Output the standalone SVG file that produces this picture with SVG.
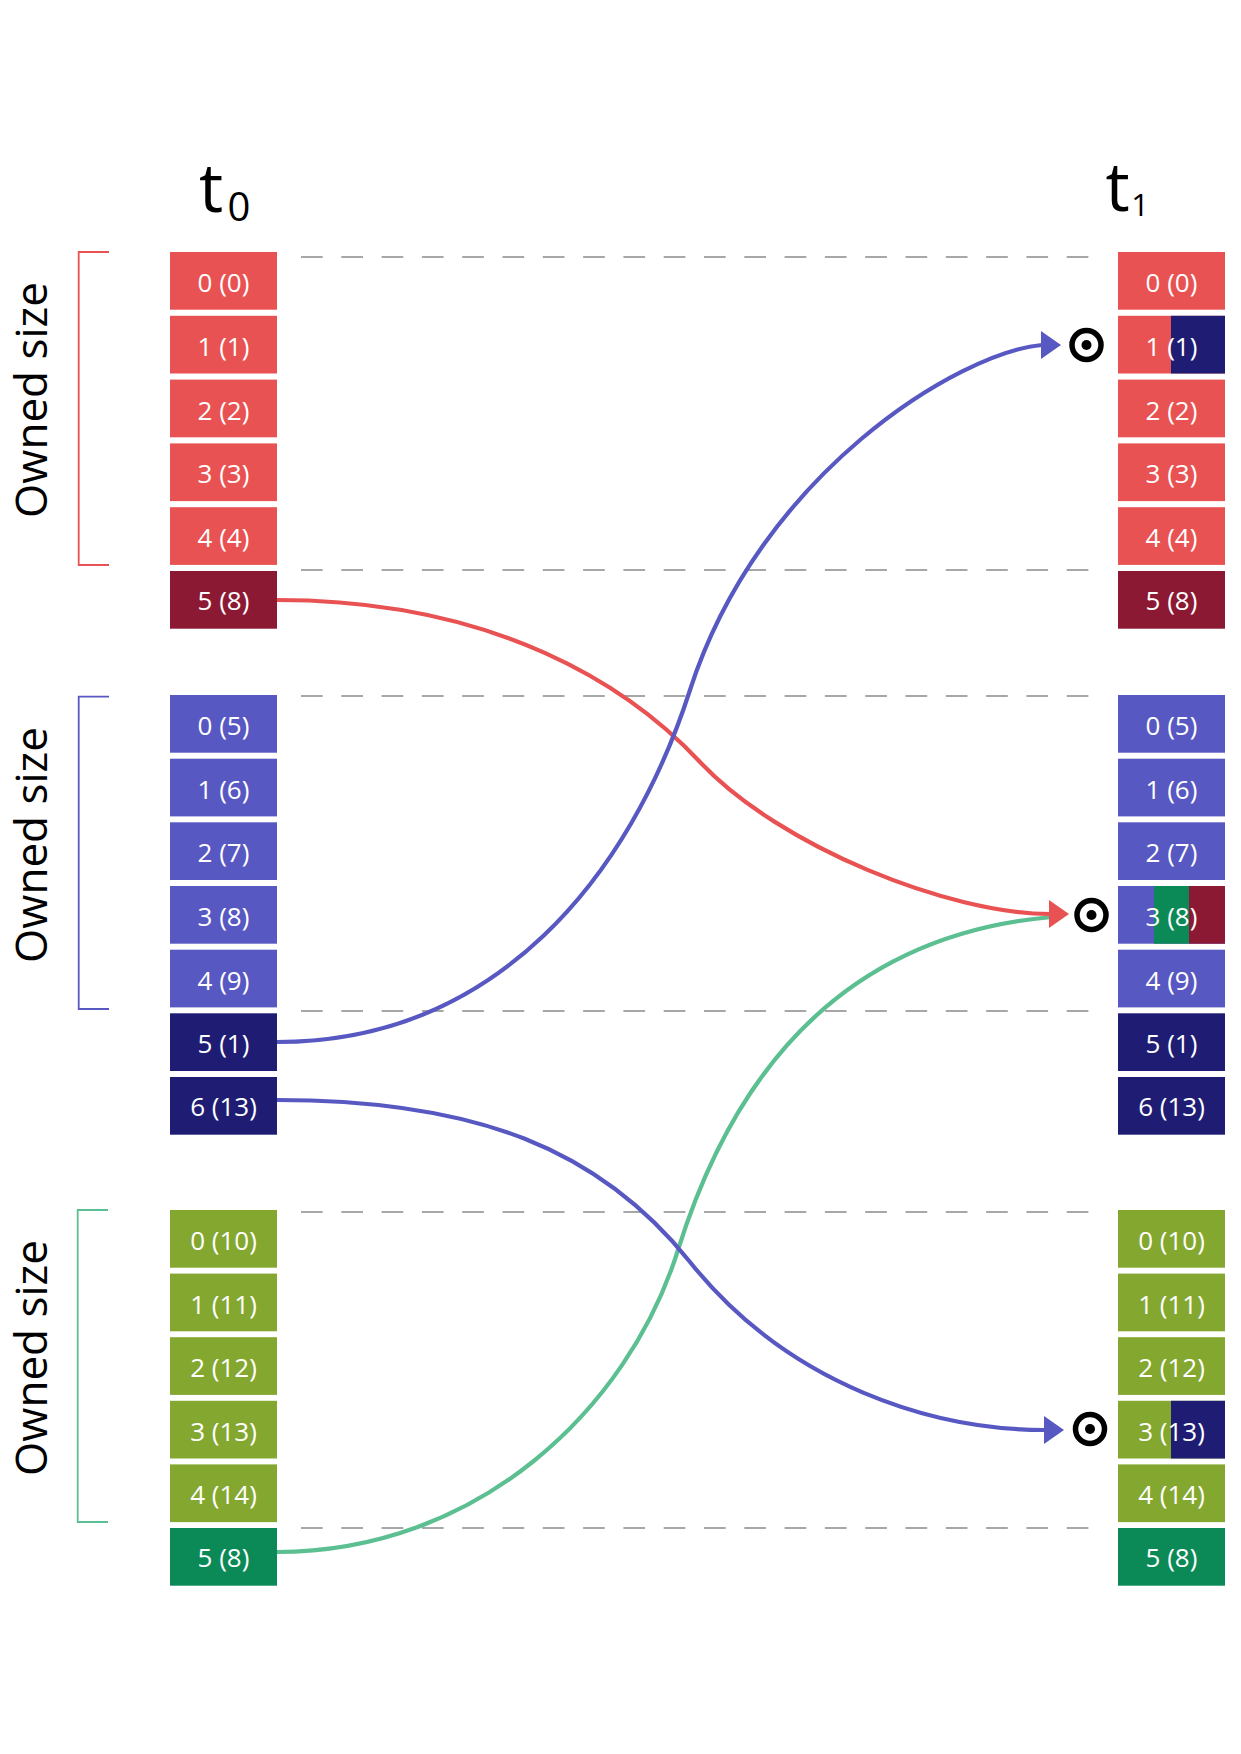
<svg xmlns="http://www.w3.org/2000/svg" width="1241" height="1754" viewBox="0 0 1241 1754">
  <style>
    .red{fill:#E95252}
    .dred{fill:#8C1934}
    .blue{fill:#5858C2}
    .navy{fill:#1E1D73}
    .olive{fill:#84A72F}
    .dgreen{fill:#0B8A57}
    .lbl{font-family:"Open Sans","Noto Sans",sans-serif;font-size:26px;fill:#ffffff;text-anchor:middle}
    .side{font-family:"Open Sans","Noto Sans",sans-serif;font-size:44px;fill:#000000;text-anchor:middle}
    .ttl{font-family:"Open Sans","Noto Sans",sans-serif;fill:#000000;text-anchor:middle}
    .dash{stroke:#8a8a8a;stroke-width:1.3;stroke-dasharray:21.7 18.6;fill:none}
    .brk{fill:none;stroke-width:1.8}
    .link{fill:none;stroke-width:4.2}
    .tgt circle.ring{fill:none;stroke:#000000;stroke-width:5.5}
    .tgt circle.dot{fill:#000000}
  </style>
  <defs>
    <marker id="head-red" markerUnits="userSpaceOnUse" markerWidth="20" markerHeight="30" viewBox="0 0 20 30" refX="1" refY="15" orient="0">
      <path d="M0,1 L20,15 L0,29 Z" fill="#E95252"/>
    </marker>
    <marker id="head-blue" markerUnits="userSpaceOnUse" markerWidth="20" markerHeight="30" viewBox="0 0 20 30" refX="1" refY="15" orient="0">
      <path d="M0,1 L20,15 L0,29 Z" fill="#5858C2"/>
    </marker>
  </defs>

  <rect x="0" y="0" width="1241" height="1754" fill="#ffffff"/>

  <!-- column headings -->
  <g id="title-t0">
    <text class="ttl" x="211" y="212" font-size="68">t</text>
    <text class="ttl" x="239" y="221" font-size="40">0</text>
  </g>
  <g id="title-t1">
    <text class="ttl" x="1117.5" y="211" font-size="68">t</text>
    <text class="ttl" x="1140" y="216" font-size="31">1</text>
  </g>

  <!-- owned-size brackets -->
  <g id="owned-red">
    <path class="brk" stroke="#E95252" d="M109,252 H78.7 V565 H109"/>
    <text class="side" transform="translate(47,400) rotate(-90)">Owned size</text>
  </g>
  <g id="owned-blue">
    <path class="brk" stroke="#5858C2" d="M109,696.7 H78.7 V1009 H109"/>
    <text class="side" transform="translate(47,845) rotate(-90)">Owned size</text>
  </g>
  <g id="owned-green">
    <path class="brk" stroke="#5CBF91" d="M108,1210 H77.7 V1522 H108"/>
    <text class="side" transform="translate(47,1358) rotate(-90)">Owned size</text>
  </g>

  <!-- partition boundaries -->
  <g id="boundaries">
    <line class="dash" x1="301" y1="257" x2="1092" y2="257"/>
    <line class="dash" x1="301" y1="570" x2="1092" y2="570"/>
    <line class="dash" x1="301" y1="696" x2="1092" y2="696"/>
    <line class="dash" x1="301" y1="1011" x2="1092" y2="1011"/>
    <line class="dash" x1="301" y1="1212" x2="1092" y2="1212"/>
    <line class="dash" x1="301" y1="1528" x2="1092" y2="1528"/>
  </g>

  <!-- t0 column -->
  <g id="t0-red-0"><rect class="red" x="170" y="252" width="107" height="57.7"/><text class="lbl" x="223.5" y="292">0 (0)</text></g>
  <g id="t0-red-1"><rect class="red" x="170" y="315.8" width="107" height="57.7"/><text class="lbl" x="223.5" y="355.8">1 (1)</text></g>
  <g id="t0-red-2"><rect class="red" x="170" y="379.6" width="107" height="57.7"/><text class="lbl" x="223.5" y="419.6">2 (2)</text></g>
  <g id="t0-red-3"><rect class="red" x="170" y="443.4" width="107" height="57.7"/><text class="lbl" x="223.5" y="483.4">3 (3)</text></g>
  <g id="t0-red-4"><rect class="red" x="170" y="507.2" width="107" height="57.7"/><text class="lbl" x="223.5" y="547.2">4 (4)</text></g>
  <g id="t0-red-5"><rect class="dred" x="170" y="571" width="107" height="57.7"/><text class="lbl" x="223.5" y="610">5 (8)</text></g>

  <g id="t0-blue-0"><rect class="blue" x="170" y="695" width="107" height="57.7"/><text class="lbl" x="223.5" y="735">0 (5)</text></g>
  <g id="t0-blue-1"><rect class="blue" x="170" y="758.7" width="107" height="57.7"/><text class="lbl" x="223.5" y="798.7">1 (6)</text></g>
  <g id="t0-blue-2"><rect class="blue" x="170" y="822.3" width="107" height="57.7"/><text class="lbl" x="223.5" y="862.3">2 (7)</text></g>
  <g id="t0-blue-3"><rect class="blue" x="170" y="886" width="107" height="57.7"/><text class="lbl" x="223.5" y="926">3 (8)</text></g>
  <g id="t0-blue-4"><rect class="blue" x="170" y="949.7" width="107" height="57.7"/><text class="lbl" x="223.5" y="989.7">4 (9)</text></g>
  <g id="t0-blue-5"><rect class="navy" x="170" y="1013.3" width="107" height="57.7"/><text class="lbl" x="223.5" y="1053">5 (1)</text></g>
  <g id="t0-blue-6"><rect class="navy" x="170" y="1077" width="107" height="57.7"/><text class="lbl" x="223.5" y="1116">6 (13)</text></g>

  <g id="t0-green-0"><rect class="olive" x="170" y="1210" width="107" height="57.7"/><text class="lbl" x="223.5" y="1250">0 (10)</text></g>
  <g id="t0-green-1"><rect class="olive" x="170" y="1273.6" width="107" height="57.7"/><text class="lbl" x="223.5" y="1313.6">1 (11)</text></g>
  <g id="t0-green-2"><rect class="olive" x="170" y="1337.2" width="107" height="57.7"/><text class="lbl" x="223.5" y="1377.2">2 (12)</text></g>
  <g id="t0-green-3"><rect class="olive" x="170" y="1400.8" width="107" height="57.7"/><text class="lbl" x="223.5" y="1440.8">3 (13)</text></g>
  <g id="t0-green-4"><rect class="olive" x="170" y="1464.4" width="107" height="57.7"/><text class="lbl" x="223.5" y="1504.4">4 (14)</text></g>
  <g id="t0-green-5"><rect class="dgreen" x="170" y="1528" width="107" height="57.7"/><text class="lbl" x="223.5" y="1567">5 (8)</text></g>

  <!-- t1 column -->
  <g id="t1-red-0"><rect class="red" x="1118" y="252" width="107" height="57.7"/><text class="lbl" x="1171.5" y="292">0 (0)</text></g>
  <g id="t1-red-1"><rect class="red" x="1118" y="315.8" width="107" height="57.7"/><rect class="navy" x="1171" y="315.8" width="54" height="57.7"/><text class="lbl" x="1171.5" y="355.8">1 (1)</text></g>
  <g id="t1-red-2"><rect class="red" x="1118" y="379.6" width="107" height="57.7"/><text class="lbl" x="1171.5" y="419.6">2 (2)</text></g>
  <g id="t1-red-3"><rect class="red" x="1118" y="443.4" width="107" height="57.7"/><text class="lbl" x="1171.5" y="483.4">3 (3)</text></g>
  <g id="t1-red-4"><rect class="red" x="1118" y="507.2" width="107" height="57.7"/><text class="lbl" x="1171.5" y="547.2">4 (4)</text></g>
  <g id="t1-red-5"><rect class="dred" x="1118" y="571" width="107" height="57.7"/><text class="lbl" x="1171.5" y="610">5 (8)</text></g>

  <g id="t1-blue-0"><rect class="blue" x="1118" y="695" width="107" height="57.7"/><text class="lbl" x="1171.5" y="735">0 (5)</text></g>
  <g id="t1-blue-1"><rect class="blue" x="1118" y="758.7" width="107" height="57.7"/><text class="lbl" x="1171.5" y="798.7">1 (6)</text></g>
  <g id="t1-blue-2"><rect class="blue" x="1118" y="822.3" width="107" height="57.7"/><text class="lbl" x="1171.5" y="862.3">2 (7)</text></g>
  <g id="t1-blue-3"><rect class="blue" x="1118" y="886" width="107" height="57.7"/><rect class="dgreen" x="1154" y="886" width="35" height="57.7"/><rect class="dred" x="1189" y="886" width="36" height="57.7"/><text class="lbl" x="1171.5" y="926">3 (8)</text></g>
  <g id="t1-blue-4"><rect class="blue" x="1118" y="949.7" width="107" height="57.7"/><text class="lbl" x="1171.5" y="989.7">4 (9)</text></g>
  <g id="t1-blue-5"><rect class="navy" x="1118" y="1013.3" width="107" height="57.7"/><text class="lbl" x="1171.5" y="1053">5 (1)</text></g>
  <g id="t1-blue-6"><rect class="navy" x="1118" y="1077" width="107" height="57.7"/><text class="lbl" x="1171.5" y="1116">6 (13)</text></g>

  <g id="t1-green-0"><rect class="olive" x="1118" y="1210" width="107" height="57.7"/><text class="lbl" x="1171.5" y="1250">0 (10)</text></g>
  <g id="t1-green-1"><rect class="olive" x="1118" y="1273.6" width="107" height="57.7"/><text class="lbl" x="1171.5" y="1313.6">1 (11)</text></g>
  <g id="t1-green-2"><rect class="olive" x="1118" y="1337.2" width="107" height="57.7"/><text class="lbl" x="1171.5" y="1377.2">2 (12)</text></g>
  <g id="t1-green-3"><rect class="olive" x="1118" y="1400.8" width="107" height="57.7"/><rect class="navy" x="1171" y="1400.8" width="54" height="57.7"/><text class="lbl" x="1171.5" y="1440.8">3 (13)</text></g>
  <g id="t1-green-4"><rect class="olive" x="1118" y="1464.4" width="107" height="57.7"/><text class="lbl" x="1171.5" y="1504.4">4 (14)</text></g>
  <g id="t1-green-5"><rect class="dgreen" x="1118" y="1528" width="107" height="57.7"/><text class="lbl" x="1171.5" y="1567">5 (8)</text></g>

  <!-- target markers -->
  <g id="target-1" class="tgt"><circle class="ring" cx="1086.5" cy="345" r="14.5"/><circle class="dot" cx="1086.5" cy="345" r="5"/></g>
  <g id="target-2" class="tgt"><circle class="ring" cx="1091.5" cy="915" r="14.5"/><circle class="dot" cx="1091.5" cy="915" r="5"/></g>
  <g id="target-3" class="tgt"><circle class="ring" cx="1090" cy="1429" r="14.5"/><circle class="dot" cx="1090" cy="1429" r="5"/></g>

  <!-- migration links: each is two cubic segments joined smoothly at the steepest point -->
  <g id="connectors">
    <path class="link" stroke="#5CBF91" d="M277,1552 C477,1552 628,1410 678,1250 C768,962 960,925 1052,917"/>
    <path class="link" stroke="#E95252" marker-end="url(#head-red)" d="M277,600 C497,600 630,687 700,762 C780,847 950,914 1050,914"/>
    <path class="link" stroke="#5858C2" marker-end="url(#head-blue)" d="M277,1042 C497,1042 630,876 690,690 C760,473 960,352 1042,345"/>
    <path class="link" stroke="#5858C2" marker-end="url(#head-blue)" d="M277,1100 C477,1100 600,1149.5 690,1262 C790,1387 935,1430 1045,1430"/>
  </g>
</svg>
